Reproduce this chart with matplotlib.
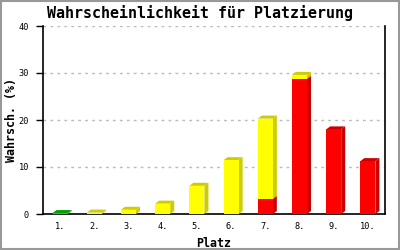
import matplotlib
matplotlib.use('Agg')
import matplotlib.pyplot as plt
from matplotlib.patches import Polygon, Rectangle
import numpy as np

# ── data ─────────────────────────────────────────────
places = ['1.', '2.', '3.', '4.', '5.', '6.', '7.', '8.', '9.', '10.']
green  = [0.2, 0, 0, 0, 0, 0, 0, 0, 0, 0]
red    = [0, 0, 0, 0, 0, 0, 3.2, 28.75, 18.0, 11.25]
yellow = [0, 0.3, 0.9, 2.2, 6.0, 11.45, 17.1, 0.85, 0, 0]

series = [
    (green,  '#22cc22', '#00a000'),
    (red,    '#ff0000', '#cc0000'),
    (yellow, '#ffff00', '#cccc00'),
]

MONO = 'DejaVu Sans Mono'

fig = plt.figure(figsize=(4, 2.5), dpi=100)
fig.patch.set_facecolor('white')
# outer grey frame
fig.add_artist(Rectangle((0.002, 0.003), 0.995, 0.994, transform=fig.transFigure,
                         fill=False, edgecolor='#999999', linewidth=1.5))

ax = fig.add_axes([0.1075, 0.144, 0.855, 0.752])
ax.set_xlim(0, 10)
ax.set_ylim(0, 40)

# depth of the 3D effect in data units (about 4px right, 3px up)
dx = 4 / 342 * 10
dy = 3 / 188 * 40
w = 0.44

x = np.arange(len(places)) + 0.5
bottom = np.zeros(len(places))
for vals, face, side in series:
    vals = np.array(vals, dtype=float)
    for xi, b, v in zip(x, bottom, vals):
        if v <= 0:
            continue
        l, r = xi - w / 2, xi + w / 2
        t = b + v
        # side face
        ax.add_patch(Polygon([(r, b), (r + dx, b + dy), (r + dx, t + dy), (r, t)],
                             closed=True, facecolor=side, edgecolor='none', zorder=3))
        # top face
        ax.add_patch(Polygon([(l, t), (l + dx, t + dy), (r + dx, t + dy), (r, t)],
                             closed=True, facecolor=side, edgecolor='none', zorder=3))
    ax.bar(x, vals, width=w, bottom=bottom, color=face, edgecolor='none', zorder=4)
    bottom = bottom + vals

# grid / axes styling
ax.set_yticks([0, 10, 20, 30, 40])
for yv in [10, 20, 30, 40]:
    ax.axhline(yv, color='#bbbbbb', linestyle=(0, (2, 3)), linewidth=1, zorder=1)
ax.set_xticks(x)
ax.set_xticklabels(places, family=MONO, fontsize=6.2)
ax.tick_params(axis='x', length=0, pad=6)
ax.tick_params(axis='y', length=5, width=1, pad=5, labelsize=6.2, direction='out')
for lab in ax.get_yticklabels():
    lab.set_family(MONO)

for s in ['left', 'bottom', 'right']:
    ax.spines[s].set_color('black')
    ax.spines[s].set_linewidth(1.2)
ax.spines['top'].set_visible(False)

ax.set_xlabel('Platz', family=MONO, fontweight='bold', fontsize=8.4, labelpad=4)
ax.set_ylabel('Wahrsch. (%)', family=MONO, fontweight='bold', fontsize=8.4)
ax.yaxis.label.set_va('center')
ax.yaxis.set_label_coords(-0.091, 0.5)

fig.text(0.5, 0.948, 'Wahrscheinlichkeit für Platzierung', family=MONO,
         fontweight='bold', fontsize=10.8, ha='center', va='center')

fig.savefig('out.png', dpi=100)
